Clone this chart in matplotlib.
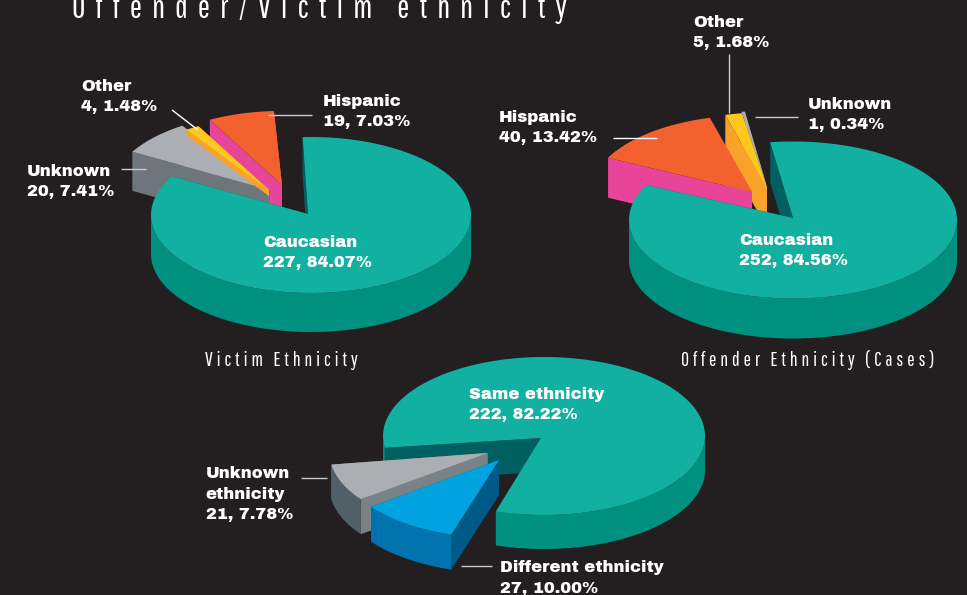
import matplotlib
matplotlib.use("Agg")
import matplotlib.pyplot as plt
import numpy as np

# data
victim_names = ["Caucasian", "Unknown", "Other", "Hispanic"]
victim_counts = [227, 20, 4, 19]
victim_pcts = [84.07, 7.41, 1.48, 7.03]

offender_names = ["Caucasian", "Hispanic", "Other", "Unknown"]
offender_counts = [252, 40, 5, 1]
offender_pcts = [84.56, 13.42, 1.68, 0.34]

same_names = ["Same ethnicity", "Different ethnicity", "Unknown\nethnicity"]
same_counts = [222, 27, 21]
same_pcts = [82.22, 10.00, 7.78]

title = "Offender/Victim ethnicity"
caption1 = "Victim Ethnicity"
caption2 = "Offender Ethnicity (Cases)"

BG = "#231F20"
TEAL = ("#12B0A0", "#009080", "#005F60")
GREY = ("#ABAFB4", "#6F767B", "#6F767B")
GREY3 = ("#ABAFB4", "#515F68", "#7B8287")
ORANGE = ("#F2612E", "#E8449A", "#E8449A")
YELLOW = ("#FFC81A", "#F8A229", "#F8A229")
BLUE = ("#00A3E0", "#0072AE", "#005A87")
NARROW = ["Pathway Gothic One", "Roboto Condensed", "DejaVu Sans"]
HEAVY = ["Archivo Black", "DejaVu Sans"]


def wedge(ax, cx, cy, rx, ry, h, a0, a1, cols, tip=(0, 0)):
    # a0 -> a1 goes clockwise, angles in degrees
    t = np.radians(np.linspace(a0, a1, 240))
    xs = cx + rx * np.cos(t)
    ys = cy - ry * np.sin(t)
    ax0, ay0 = cx + tip[0], cy + tip[1]
    top, wall, cut = cols

    # the two cut faces
    for i in (0, -1):
        ax.fill([ax0, xs[i], xs[i], ax0], [ay0, ys[i], ys[i] + h, ay0 + h], color=cut, lw=0)

    # outer wall, only the front part of the rim
    front = np.sin(t) < 0
    idx = np.where(front)[0]
    if len(idx):
        for g in np.split(idx, np.where(np.diff(idx) > 1)[0] + 1):
            ax.fill(np.r_[xs[g], xs[g][::-1]], np.r_[ys[g], ys[g][::-1] + h], color=wall, lw=0)

    ax.fill(np.r_[ax0, xs], np.r_[ay0, ys], color=top, lw=0)


def pie3d(ax, pcts, start, cx, cy, rx, ry, styles, order):
    edges = start - np.cumsum([0] + list(pcts)) * 3.6
    for i in order:
        cols, off, rad, hh, tip = styles[i]
        wedge(ax, cx + off[0], cy + off[1], rx * rad, ry * rad, hh, edges[i], edges[i + 1], cols, tip)


def label(ax, x, y, name, count, pct):
    ax.text(x, y, f"{name}\n{count}, {pct:.2f}%", color="white", fontsize=11.8,
            family=HEAVY, va="baseline", ha="left", linespacing=1.45)


def lead(ax, x0, y0, x1, y1, c="#C9CBCC"):
    ax.plot([x0, x1], [y0, y1], color=c, lw=1.0, solid_capstyle="butt")


fig = plt.figure(figsize=(9.67, 5.95), dpi=100, facecolor=BG)
ax = fig.add_axes([0, 0, 1, 1])
ax.set_xlim(0, 967)
ax.set_ylim(595, 0)
ax.axis("off")

# pie 1
pie3d(ax, victim_pcts, 93, 311, 215, 160, 78, [
    (TEAL, (0, 0), 1, 39, (-3, -1)),
    (GREY, (-41, -25), 0.99, 39, (0, 0)),
    (YELLOW, (-42, -25), 0.93, 6, (0, 0)),
    (ORANGE, (-29, -30), 0.95, 39, (0, 0)),
], [3, 1, 2, 0])

# pie 2
pie3d(ax, offender_pcts, 98, 793, 220, 164, 78.5, [
    (TEAL, (0, 0), 1, 40, (0, -2)),
    (ORANGE, (-41, -28), 0.98, 40, (0, 0)),
    (YELLOW, (-26, -32), 0.965, 40, (0, 0)),
    (GREY, (-26, -33), 0.97, 40, (0, 0)),
], [3, 2, 1, 0])

# pie 3
pie3d(ax, same_pcts, 188.6, 544, 436, 161, 79, [
    (TEAL, (0, 0), 1, 34, (-3, 2)),
    (BLUE, (-45, 24), 0.99, 35, (0, 0)),
    (GREY3, (-56.5, 17), 0.98, 35, (0, 0)),
], [0, 2, 1])

# leader lines
lead(ax, 172, 110, 198, 130, "white")
lead(ax, 268, 115, 312, 115)
lead(ax, 121, 169, 146, 169)
lead(ax, 729, 54, 729, 113)
lead(ax, 755, 117, 798, 117)
lead(ax, 613, 138, 657, 138, "white")
lead(ax, 301, 478, 326.5, 478)
lead(ax, 460.5, 565.5, 492, 565.5)

# labels, y is the baseline of the last line
label(ax, 263, 267, victim_names[0], victim_counts[0], victim_pcts[0])
label(ax, 27, 196, victim_names[1], victim_counts[1], victim_pcts[1])
label(ax, 81, 111, victim_names[2], victim_counts[2], victim_pcts[2])
label(ax, 323, 126, victim_names[3], victim_counts[3], victim_pcts[3])
label(ax, 739, 265, offender_names[0], offender_counts[0], offender_pcts[0])
label(ax, 499, 142, offender_names[1], offender_counts[1], offender_pcts[1])
label(ax, 693, 47, offender_names[2], offender_counts[2], offender_pcts[2])
label(ax, 808, 129, offender_names[3], offender_counts[3], offender_pcts[3])
label(ax, 469, 419.5, same_names[0], same_counts[0], same_pcts[0])
label(ax, 500, 592.5, same_names[1], same_counts[1], same_pcts[1])
label(ax, 205.5, 519, same_names[2], same_counts[2], same_pcts[2])

# spaced out thin type for the headings
ax.text(72, 17.5, "\u2004".join(title), color="white", fontsize=23.5, family=NARROW, va="baseline")
ax.text(205, 366, "\u2009".join(caption1), color="white", fontsize=14.3, family=NARROW, va="baseline")
ax.text(681, 366, "\u2009".join(caption2), color="white", fontsize=14.3, family=NARROW, va="baseline")

fig.savefig("out.png", dpi=100, facecolor=BG)
